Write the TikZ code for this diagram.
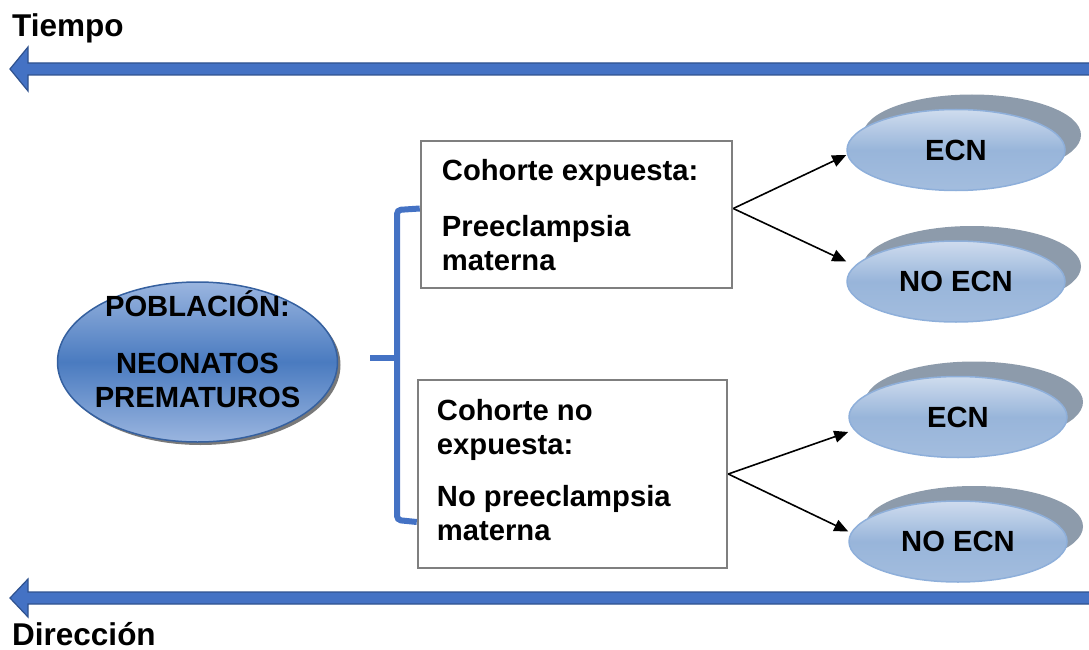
\documentclass[tikz,border=0pt]{standalone}
\usepackage{fontspec}
\setmainfont{Liberation Sans}
\usetikzlibrary{positioning}
\usetikzlibrary{arrows.meta}
\usetikzlibrary{shapes.geometric,shadows}

\definecolor{arrowblue}{HTML}{4472C4}
\definecolor{arrowedge}{HTML}{2F528F}
\definecolor{ovaldark}{HTML}{4A7BC0}
\definecolor{ovallight}{HTML}{9AB5DF}
\definecolor{ovaledge}{HTML}{35609F}
\definecolor{outlight}{HTML}{CFDCEE}
\definecolor{outmid}{HTML}{98B5DA}
\definecolor{outedge}{HTML}{8EAFDA}
\definecolor{outshadow}{HTML}{8D9BAB}
\definecolor{boxedge}{HTML}{7F7F7F}

\tikzset{
  bodytext/.style={font=\fontsize{29.2}{34}\selectfont\bfseries},
  timetext/.style={font=\fontsize{31.5}{36}\selectfont\bfseries, inner sep=0pt, anchor=base west},
  timearrow/.style={fill=arrowblue, draw=arrowedge, line width=1.2pt},
  brace/.style={draw=arrowblue, line width=6pt},
  cohort/.style={draw=boxedge, line width=2.5pt, fill=white},
  outcome/.style={ellipse, draw=outedge, line width=1.5pt,
    minimum width=218pt, minimum height=81pt,
    top color=outlight, bottom color=outmid!80!outlight, middle color=outmid,
    drop shadow={shadow xshift=16pt, shadow yshift=15pt, fill=outshadow, opacity=1},
    bodytext},
  outarrow/.style={-{Triangle[length=14pt,width=12pt]}, line width=1.6pt}
}

\begin{document}
\begin{tikzpicture}[x=1pt,y=-1pt]
\useasboundingbox (0,0) rectangle (1089,650);

% Time and direction arrows
\foreach \yc/\hh in {69/22, 598/19}
  \draw[timearrow] (1095,\yc-6) -- (28,\yc-6) -- (28,\yc-\hh) -- (10,\yc)
    -- (28,\yc+\hh) -- (28,\yc+6) -- (1095,\yc+6) -- cycle;
\node[timetext] (tiempo) at (12,37) {Tiempo};
\node[timetext] (direccion) at (12,645) {Dirección};

% Population
\node[ellipse, draw=ovaledge, line width=1.5pt,
    minimum width=280pt, minimum height=160pt,
    top color=ovallight, bottom color=ovallight, middle color=ovaldark,
    drop shadow={shadow xshift=3pt, shadow yshift=-3pt, fill=black!75, opacity=0.7}
    ] (poblacion) at (197.5,362) {};
\node[bodytext, align=center, inner sep=0pt,
    below=9pt of poblacion.north
    ] (poblaciontext) {POBLACIÓN:\\[23pt] NEONATOS\\ PREMATUROS};

% Cohorts
\node[cohort, minimum width=311pt, minimum height=147pt] (expuesta) at (576.5,214.5) {};
\node[bodytext, align=left, inner sep=0pt,
    below right=19pt and 22pt of expuesta.north west
    ] (expuestatext) {Cohorte expuesta:\\[22pt] Preeclampsia\\ materna};

\node[cohort, minimum width=309pt, minimum height=188pt] (noexpuesta) at (572.5,474) {};
\node[bodytext, align=left, inner sep=0pt,
    below right=20pt and 20pt of noexpuesta.north west
    ] (noexpuestatext) {Cohorte no\\ expuesta:\\[18pt] No preeclampsia\\ materna};

% Brace
\coordinate (bracetip) at (370,358);
\draw[brace, rounded corners=4pt] ([yshift=6pt]expuesta.west) -- (397,210)
    -- (397,520) -- ([yshift=-48pt]noexpuesta.west);
\draw[brace] (397,358) -- (bracetip);

% Outcomes
\node[outcome] (ecn1) at (956,150) {ECN};
\node[outcome, below=49pt of ecn1] (noecn1) {NO ECN};
\node[outcome] (ecn2) at (958,417) {ECN};
\node[outcome, below=42pt of ecn2] (noecn2) {NO ECN};

\draw[outarrow] ([yshift=6pt]expuesta.east) -- ([yshift=-5pt]ecn1.west);
\draw[outarrow] ([yshift=6pt]expuesta.east) -- ([yshift=20pt]noecn1.west);
\draw[outarrow] (noexpuesta.east) -- ([yshift=-15pt]ecn2.west);
\draw[outarrow] (noexpuesta.east) -- ([yshift=10pt]noecn2.west);
\end{tikzpicture}
\end{document}
